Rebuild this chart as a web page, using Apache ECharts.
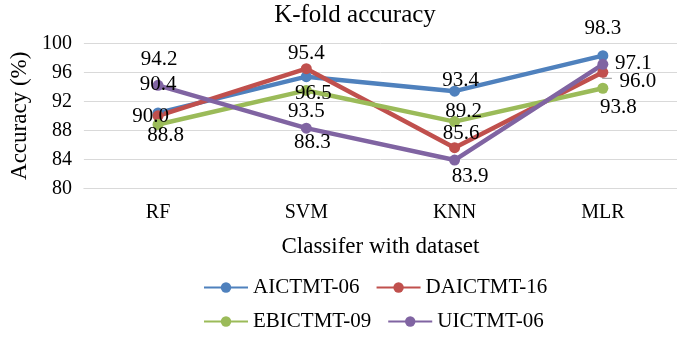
<!DOCTYPE html>
<html>
<head>
<meta charset="utf-8">
<style>
  html, body { margin: 0; padding: 0; background: #ffffff; }
  #chart { width: 677px; height: 337px; }
</style>
<script src="https://cdn.jsdelivr.net/npm/echarts@6/dist/echarts.min.js"></script>
</head>
<body>
<div id="chart"></div>
<script>
// Classifier categories along the x axis
const categories = ['RF', 'SVM', 'KNN', 'MLR'];

// K-fold accuracy (%) for each dataset
const aictmt06  = [90.4, 95.4, 93.4, 98.3];
const daictmt16 = [90.0, 96.5, 85.6, 96.0];
const ebictmt09 = [88.8, 93.5, 89.2, 93.8];
const uictmt06  = [94.2, 88.3, 83.9, 97.1];

const seriesNames = ['AICTMT-06', 'DAICTMT-16', 'EBICTMT-09', 'UICTMT-06'];

// Value axis range
const yMin = 80, yMax = 100, yStep = 4;

const FONT = '"Liberation Serif", "Times New Roman", serif';
const colors = ['#4F81BD', '#C0504D', '#9BBB59', '#8064A2'];

// Label nudges (px) from each point, per series
const labelNudges = [
  [[0, -28], [0, -23.4], [6, -10.4], [0, -27]],
  [[-7.5, 1], [7, 24.6], [6.5, -14.4], [35, 9.4]],
  [[7.5, 10.5], [0, 21.3], [9, -10], [15.5, 19.2]],
  [[1, -26], [6, 14.4], [15.5, 16.7], [30.5, -1]]
];

function buildSeries(name, values, idx) {
  return {
    name: name,
    type: 'line',
    data: values,
    symbol: 'circle',
    symbolSize: 11,
    lineStyle: { width: 4.5, color: colors[idx] },
    itemStyle: { color: colors[idx] },
    label: {
      show: true,
      position: 'inside',
      color: '#000',
      fontFamily: FONT,
      fontSize: 21,
      formatter: function (p) { return p.value.toFixed(1); }
    },
    // every label is shifted from its point by the nudge table
    labelLayout: function (p) {
      const n = labelNudges[idx][p.dataIndex];
      return { dx: n[0], dy: n[1] };
    },
    emphasis: { disabled: true },
    animation: false
  };
}

const allValues = [aictmt06, daictmt16, ebictmt09, uictmt06];
const series = allValues.map(function (vals, i) { return buildSeries(seriesNames[i], vals, i); });

const legendCommon = {
  left: 203,
  padding: 0,
  itemWidth: 44,
  itemHeight: 13,
  itemGap: 16,
  textStyle: { fontFamily: FONT, fontSize: 21, color: '#000', width: 110, overflow: 'none' }
};

const chart = echarts.init(document.getElementById('chart'), null, { renderer: 'canvas' });
chart.setOption({
  animation: false,
  color: colors,
  textStyle: { fontFamily: FONT, color: '#000' },
  title: {
    text: 'K-fold accuracy',
    left: 355,
    textAlign: 'center',
    top: 3,
    padding: 0,
    textStyle: { fontFamily: FONT, fontSize: 25, fontWeight: 'normal', color: '#000' }
  },
  legend: [
    Object.assign({ top: 277, data: [seriesNames[0], seriesNames[1]] }, legendCommon),
    Object.assign({ top: 311, data: [seriesNames[2], seriesNames[3]] }, legendCommon)
  ],
  grid: { left: 79.5, top: 43.3, width: 605, height: 145 },
  xAxis: {
    type: 'category',
    data: categories,
    boundaryGap: true,
    name: 'Classifer with dataset',
    nameLocation: 'middle',
    nameGap: 47,
    nameTextStyle: { fontFamily: FONT, fontSize: 23, color: '#000' },
    axisLine: { show: true, lineStyle: { color: '#D9D9D9', width: 1 } },
    axisTick: { show: false },
    axisLabel: { fontFamily: FONT, fontSize: 20, color: '#000', margin: 14 }
  },
  yAxis: {
    type: 'value',
    min: yMin,
    max: yMax,
    interval: yStep,
    name: 'Accuracy (%)',
    nameLocation: 'middle',
    nameGap: 52,
    nameTextStyle: { fontFamily: FONT, fontSize: 23, color: '#000' },
    axisLine: { show: false },
    axisTick: { show: false },
    splitLine: { lineStyle: { color: '#D9D9D9', width: 1 } },
    axisLabel: { fontFamily: FONT, fontSize: 20, color: '#000', margin: 12 }
  },
  series: series
});

// Short guide line from the DAICTMT-16 point at MLR to its side label
const p = chart.convertToPixel({ seriesIndex: 1 }, [3, daictmt16[3]]);
chart.setOption({
  graphic: [{
    type: 'polyline',
    silent: true,
    z: 1,
    shape: { points: [[p[0], p[1] + 5], [p[0], p[1] + 6], [p[0] + 9, p[1] + 6]] },
    style: { stroke: '#A6A6A6', lineWidth: 1.3, fill: null }
  }]
});
</script>
</body>
</html>
